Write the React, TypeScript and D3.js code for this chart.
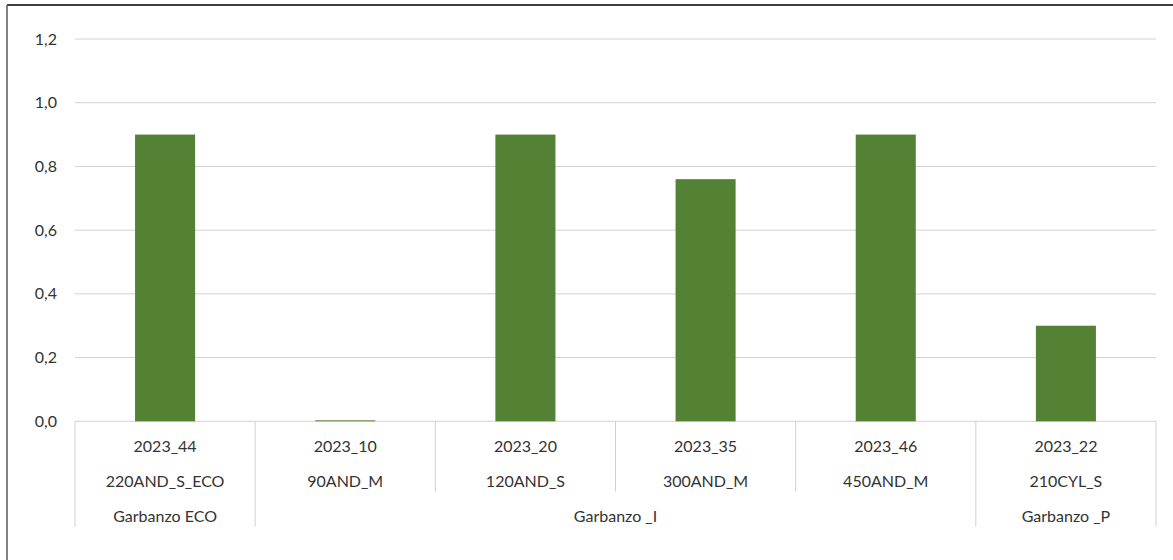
import React from "react";
import * as d3 from "d3";

const codes = ["2023_44", "2023_10", "2023_20", "2023_35", "2023_46", "2023_22"];
const names = ["220AND_S_ECO", "90AND_M", "120AND_S", "300AND_M", "450AND_M", "210CYL_S"];
const groupNames = ["Garbanzo ECO", "Garbanzo _I", "Garbanzo _P"];
const groupSizes = [1, 4, 1];
const values = [0.9, 0.003, 0.9, 0.76, 0.9, 0.3];
const yTicks = [0, 0.2, 0.4, 0.6, 0.8, 1.0, 1.2];

const W = 1173;
const H = 560;
const plot = { left: 75, right: 1156, top: 39, bottom: 421.3 };
const font = "Lato, 'Open Sans', sans-serif";
const fontSize = 16;
const textColor = "#333333";
const gridColor = "#d0d0d0";

export default function App() {
  const x = d3
    .scaleBand<number>()
    .domain(d3.range(codes.length))
    .range([plot.left, plot.right])
    .paddingInner(0)
    .paddingOuter(0);
  const y = d3.scaleLinear().domain([0, 1.2]).range([plot.bottom, plot.top]);
  const bw = x.bandwidth();
  const barW = bw / 3;
  const fmt = (v: number) => d3.format(".1f")(v).replace(".", ",");

  const row1Y = 446;
  const row2Y = 481;
  const row3Y = 516;
  const innerSepBottom = 491.7;
  const groupSepBottom = 526.7;

  const groupStarts: number[] = [];
  let acc = 0;
  groupSizes.forEach((s) => {
    groupStarts.push(acc);
    acc += s;
  });
  const groupBoundaryIdx = new Set<number>([...groupStarts, codes.length]);

  return (
    <svg
      width={W}
      height={H}
      style={{ position: "absolute", left: 0, top: 0, background: "#fff" }}
    >
      <rect x={0} y={0} width={W} height={H} fill="#fff" />
      <line x1={7} x2={W} y1={5} y2={5} stroke="#000" strokeWidth={1.5} />
      <line x1={7} x2={7} y1={5} y2={H} stroke="#595959" strokeWidth={1.5} />

      {yTicks.map((t) => (
        <line
          key={"g" + t}
          x1={plot.left}
          x2={plot.right}
          y1={y(t)}
          y2={y(t)}
          stroke={gridColor}
          strokeWidth={1}
        />
      ))}
      {yTicks.map((t) => (
        <text
          key={"t" + t}
          x={57}
          y={y(t)}
          dy="0.35em"
          textAnchor="end"
          fontFamily={font}
          fontSize={fontSize}
          fill={textColor}
        >
          {fmt(t)}
        </text>
      ))}

      {values.map((v, i) => (
        <rect
          key={"b" + i}
          x={(x(i) as number) + (bw - barW) / 2}
          y={y(v)}
          width={barW}
          height={plot.bottom - y(v)}
          fill="#548235"
        />
      ))}

      {d3.range(codes.length + 1).map((i) => {
        const xx = i < codes.length ? (x(i) as number) : plot.right;
        const bottom = groupBoundaryIdx.has(i) ? groupSepBottom : innerSepBottom;
        return (
          <line
            key={"s" + i}
            x1={xx}
            x2={xx}
            y1={plot.bottom}
            y2={bottom}
            stroke={gridColor}
            strokeWidth={1}
          />
        );
      })}

      {codes.map((c, i) => (
        <text
          key={"c" + i}
          x={(x(i) as number) + bw / 2}
          y={row1Y}
          dy="0.35em"
          textAnchor="middle"
          fontFamily={font}
          fontSize={fontSize}
          fill={textColor}
        >
          {c}
        </text>
      ))}
      {names.map((n, i) => (
        <text
          key={"n" + i}
          x={(x(i) as number) + bw / 2}
          y={row2Y}
          dy="0.35em"
          textAnchor="middle"
          fontFamily={font}
          fontSize={fontSize}
          fill={textColor}
        >
          {n}
        </text>
      ))}
      {groupNames.map((g, gi) => {
        const start = x(groupStarts[gi]) as number;
        const end = start + bw * groupSizes[gi];
        return (
          <text
            key={"gr" + gi}
            x={(start + end) / 2}
            y={row3Y}
            dy="0.35em"
            textAnchor="middle"
            fontFamily={font}
            fontSize={fontSize}
            fill={textColor}
          >
            {g}
          </text>
        );
      })}
    </svg>
  );
}
